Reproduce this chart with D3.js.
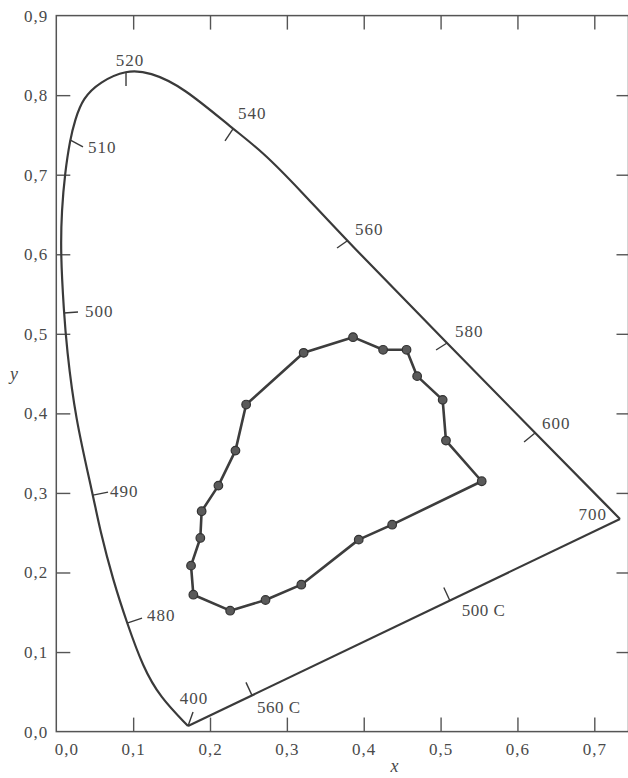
<!DOCTYPE html>
<html><head><meta charset="utf-8">
<script src="https://cdn.jsdelivr.net/npm/d3@7"></script>
<style>
html,body{margin:0;padding:0;background:#fff;}
svg{display:block;}
text{font-family:"Liberation Serif","Times New Roman",serif;fill:#4a4a4a;}
</style></head>
<body>
<svg id="chart" width="628" height="778"></svg>
<script>
// ---- data (chromaticity coordinates) ----
// spectral locus, from 400 nm round to 700 nm
const locusX = [0.1714, 0.1349, 0.1128, 0.0920, 0.0738, 0.0568, 0.0478, 0.0244, 0.0135, 0.0100, 0.0055, 0.0070, 0.0113, 0.0178, 0.0243, 0.0347, 0.0568, 0.0907, 0.1219, 0.1648, 0.2299, 0.2689, 0.3171, 0.3783, 0.5084, 0.6229, 0.7334];
const locusY = [0.0070, 0.0434, 0.0811, 0.1364, 0.1905, 0.2533, 0.2973, 0.3954, 0.4834, 0.5261, 0.6016, 0.6556, 0.7022, 0.7437, 0.7688, 0.7965, 0.8166, 0.8317, 0.8291, 0.8103, 0.7575, 0.7286, 0.6808, 0.6167, 0.4885, 0.3754, 0.2673];
// labelled wavelengths on the locus
const waveNm = [400, 480, 490, 500, 510, 520, 540, 560, 580, 600, 700];
const waveX = [0.1714, 0.0920, 0.0478, 0.0100, 0.0178, 0.0907, 0.2299, 0.3783, 0.5084, 0.6229, 0.7334];
const waveY = [0.0070, 0.1364, 0.2973, 0.5261, 0.7437, 0.8290, 0.7575, 0.6167, 0.4885, 0.3754, 0.2673];
// complementary wavelengths on the purple line
const purpleLabels = ["560 C", "500 C"];
const purpleX = [0.2546, 0.512];
// measured sample loop
const sampleX = [0.5535, 0.507, 0.5027, 0.4695, 0.4557, 0.4252, 0.3861, 0.3218, 0.247, 0.2331, 0.2109, 0.1891, 0.1874, 0.1753, 0.1783, 0.2262, 0.2722, 0.3188, 0.3935, 0.437];
const sampleY = [0.3147, 0.3658, 0.417, 0.4468, 0.4799, 0.4799, 0.4958, 0.4761, 0.4111, 0.3532, 0.3092, 0.277, 0.2434, 0.2086, 0.1721, 0.152, 0.1654, 0.1847, 0.2413, 0.2601];
// axis ticks
const xTicks = [0, 0.1, 0.2, 0.3, 0.4, 0.5, 0.6, 0.7];
const yTicks = [0, 0.1, 0.2, 0.3, 0.4, 0.5, 0.6, 0.7, 0.8, 0.9];

// ---- layout for annotations (pixel offsets from the point) ----
const waveLayout = {
  400: {tick: [5, -14], text: [6, -26], anchor: "middle"},
  480: {tick: [15, -5], text: [20, -6], anchor: "start"},
  490: {tick: [15, -3], text: [17, -2], anchor: "start"},
  500: {tick: [14, -1], text: [21, 0], anchor: "start"},
  510: {tick: [13, 7], text: [18, 9], anchor: "start"},
  520: {tick: [0, 14], text: [4, -10], anchor: "middle"},
  540: {tick: [-8, 12], text: [5, -14], anchor: "start"},
  560: {tick: [-10, 7], text: [8, -10], anchor: "start"},
  580: {tick: [-11, 7], text: [8, -10], anchor: "start"},
  600: {tick: [-11, 9], text: [7, -8], anchor: "start"},
  700: {tick: null, text: [-13, -3], anchor: "end"}
};
const purpleLayout = [{tick: [-6, -13], text: [5, 14]}, {tick: [-6, -13], text: [12, 12]}];

const fmt = d => d3.format(".1f")(d).replace(".", ",");

const svg = d3.select("#chart");
const x = d3.scaleLinear().domain([0, 0.7445]).range([56.3, 628.5]);
const y = d3.scaleLinear().domain([0, 0.9]).range([731.6, 15.6]);
const ink = "#3a3a3a";

// frame
svg.append("rect")
  .attr("x", x(0)).attr("y", y(0.9))
  .attr("width", x(0.7445) - x(0)).attr("height", y(0) - y(0.9))
  .attr("fill", "none").attr("stroke", "#555").attr("stroke-width", 1.5);

// axes
const axStyle = g => {
  g.select(".domain").remove();
  g.selectAll("line").attr("stroke", "#555").attr("stroke-width", 1.4);
  g.selectAll("text").attr("font-size", 17).attr("letter-spacing", 1)
    .attr("fill", "#4a4a4a").attr("font-family", '"Liberation Serif", serif');
};
const gB = svg.append("g").attr("transform", `translate(0,${y(0)})`)
  .call(d3.axisBottom(x).tickValues(xTicks).tickFormat(fmt).tickSize(-14).tickPadding(11))
  .call(axStyle);
gB.selectAll(".tick").filter(d => d === 0).select("line").remove();
gB.selectAll(".tick").filter(d => d === 0).select("text").attr("x", 10);

svg.append("g").attr("transform", `translate(0,${y(0.9)})`)
  .call(d3.axisTop(x).tickValues(xTicks.filter(d => d > 0)).tickFormat("").tickSize(-14))
  .call(axStyle);

const gL = svg.append("g").attr("transform", `translate(${x(0)},0)`)
  .call(d3.axisLeft(y).tickValues(yTicks).tickFormat(fmt).tickSize(-14).tickPadding(8))
  .call(axStyle);
gL.selectAll(".tick").filter(d => d === 0 || d === 0.9).select("line").remove();

svg.append("g").attr("transform", `translate(${x(0.7445)},0)`)
  .call(d3.axisRight(y).tickValues(yTicks.filter(d => d > 0 && d < 0.9)).tickFormat("").tickSize(-12))
  .call(axStyle);

// axis titles
svg.append("text").attr("x", 14).attr("y", 380).attr("text-anchor", "middle")
  .attr("font-size", 18).attr("font-style", "italic").text("y");
svg.append("text").attr("x", x(0.44)).attr("y", 772).attr("text-anchor", "middle")
  .attr("font-size", 18).attr("font-style", "italic").text("x");

// spectral locus
const locus = locusX.map((d, i) => [d, locusY[i]]);
svg.append("path")
  .attr("d", d3.line().x(d => x(d[0])).y(d => y(d[1])).curve(d3.curveBasis)(locus))
  .attr("fill", "none").attr("stroke", ink).attr("stroke-width", 2.2).attr("stroke-linejoin", "round");
// purple line
const p0 = locus[0], p1 = locus[locus.length - 1];
svg.append("line")
  .attr("x1", x(p0[0])).attr("y1", y(p0[1])).attr("x2", x(p1[0])).attr("y2", y(p1[1]))
  .attr("stroke", ink).attr("stroke-width", 2.2);

// wavelength ticks and labels
waveNm.forEach((nm, i) => {
  const px = x(waveX[i]), py = y(waveY[i]);
  const L = waveLayout[nm];
  if (L.tick) {
    svg.append("line").attr("x1", px).attr("y1", py)
      .attr("x2", px + L.tick[0]).attr("y2", py + L.tick[1])
      .attr("stroke", ink).attr("stroke-width", 1.4);
  }
  svg.append("text").attr("x", px + L.text[0]).attr("y", py + L.text[1])
    .attr("dominant-baseline", "middle").attr("text-anchor", L.anchor)
    .attr("font-size", 17).attr("letter-spacing", 1).text(nm);
});

// purple-line ticks
const purpleY = xv => p0[1] + (xv - p0[0]) * (p1[1] - p0[1]) / (p1[0] - p0[0]);
purpleLabels.forEach((lab, i) => {
  const px = x(purpleX[i]), py = y(purpleY(purpleX[i]));
  const L = purpleLayout[i];
  svg.append("line").attr("x1", px).attr("y1", py)
    .attr("x2", px + L.tick[0]).attr("y2", py + L.tick[1])
    .attr("stroke", ink).attr("stroke-width", 1.4);
  svg.append("text").attr("x", px + L.text[0]).attr("y", py + L.text[1])
    .attr("dominant-baseline", "middle").attr("text-anchor", "start")
    .attr("font-size", 17).attr("letter-spacing", 0.5).text(lab);
});

// sample loop
const samples = sampleX.map((d, i) => [d, sampleY[i]]);
svg.append("path")
  .attr("d", d3.line().x(d => x(d[0])).y(d => y(d[1])).curve(d3.curveLinearClosed)(samples))
  .attr("fill", "none").attr("stroke", "#3d3d3d").attr("stroke-width", 2.6).attr("stroke-linejoin", "round");
svg.selectAll("circle.s").data(samples).enter().append("circle")
  .attr("class", "s")
  .attr("cx", d => x(d[0])).attr("cy", d => y(d[1])).attr("r", 4.3)
  .attr("fill", "#5a5a5a").attr("stroke", "#333").attr("stroke-width", 1.2);
</script>
</body></html>
